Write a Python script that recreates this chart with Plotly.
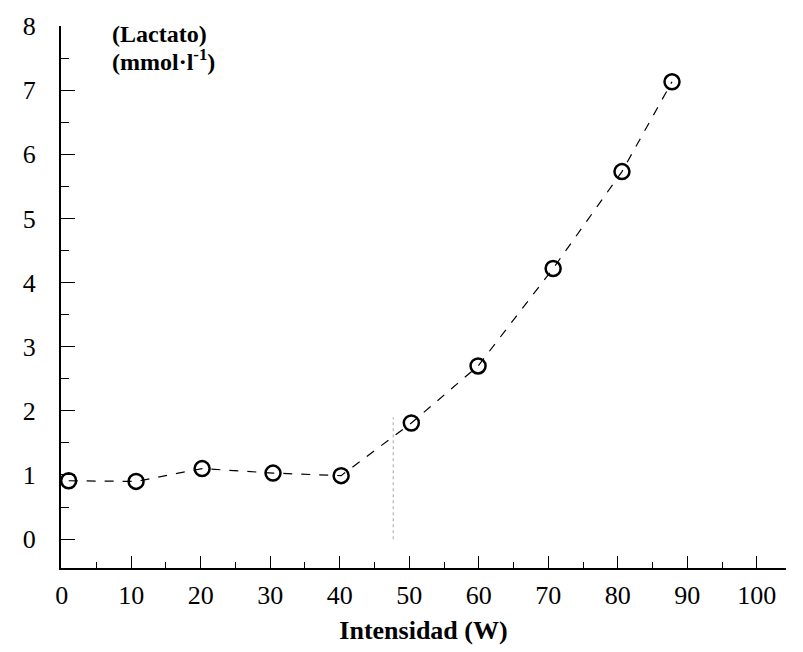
import plotly.graph_objects as go

intensidad = [1.0, 10.7, 20.2, 30.4, 40.2, 50.3, 59.9, 70.7, 80.6, 87.8]
lactato = [0.91, 0.90, 1.10, 1.03, 0.99, 1.81, 2.70, 4.22, 5.73, 7.13]
umbral_x = [47.7, 47.7]
umbral_y = [0.0, 1.9]
x_ticks = [0, 10, 20, 30, 40, 50, 60, 70, 80, 90, 100]
y_ticks = [0, 1, 2, 3, 4, 5, 6, 7, 8]

font_family = "Liberation Serif, Times New Roman, serif"

fig = go.Figure()
fig.add_trace(go.Scatter(
    x=umbral_x, y=umbral_y, mode="lines",
    line=dict(color="#b5b5b5", width=1.2, dash="dot"),
    hoverinfo="skip", showlegend=False))
fig.add_trace(go.Scatter(
    x=intensidad, y=lactato, mode="lines+markers",
    line=dict(color="black", width=1.2, dash="dash"),
    marker=dict(symbol="circle-open", size=15, color="black", line=dict(width=2.5, color="black")),
    showlegend=False))

fig.update_layout(
    width=803, height=652,
    margin=dict(l=61, r=17, t=21, b=84),
    paper_bgcolor="white", plot_bgcolor="white",
    font=dict(family=font_family, color="black", size=26),
    xaxis=dict(
        range=[-0.1, 104.2], tickvals=x_ticks, ticktext=[str(v) for v in x_ticks],
        showline=True, linecolor="black", linewidth=2, mirror=False,
        ticks="inside", ticklen=12, tickwidth=1.2, tickcolor="black",
        minor=dict(ticks="inside", ticklen=6, dtick=5, tickcolor="black", tickwidth=1.2),
        showgrid=False, zeroline=False,
        tickfont=dict(size=26, family=font_family),
        ticklabelstandoff=3,
        title=dict(text="<b>Intensidad (W)</b>", font=dict(size=26, family=font_family), standoff=12),
    ),
    yaxis=dict(
        range=[-0.45, 8], tickvals=y_ticks, ticktext=[str(v) for v in y_ticks],
        showline=True, linecolor="black", linewidth=2, mirror=False,
        ticks="inside", ticklen=14, tickwidth=1.2, tickcolor="black",
        minor=dict(ticks="inside", ticklen=8, dtick=0.5, tickcolor="black", tickwidth=1.2),
        showgrid=False, zeroline=False,
        tickfont=dict(size=26, family=font_family),
        ticklabelstandoff=18,
    ),
    annotations=[
        dict(x=0.067, y=29, xref="paper", yref="paper", xanchor="left", yanchor="middle",
             text="<b>(Lactato)</b>", showarrow=False, align="left",
             font=dict(size=24, family=font_family, color="black")),
        dict(x=0.067, y=55, xref="paper", yref="paper", xanchor="left", yanchor="middle",
             text="<b>(mmol·l<sup>-1</sup>)</b>", showarrow=False, align="left",
             font=dict(size=24, family=font_family, color="black")),
    ],
)
# convert annotation pixel rows to paper fractions
plot_top, plot_h = 21, 652 - 21 - 84
for a in fig.layout.annotations:
    a.y = 1 - (a.y - plot_top) / plot_h

fig.write_html("out.html")
